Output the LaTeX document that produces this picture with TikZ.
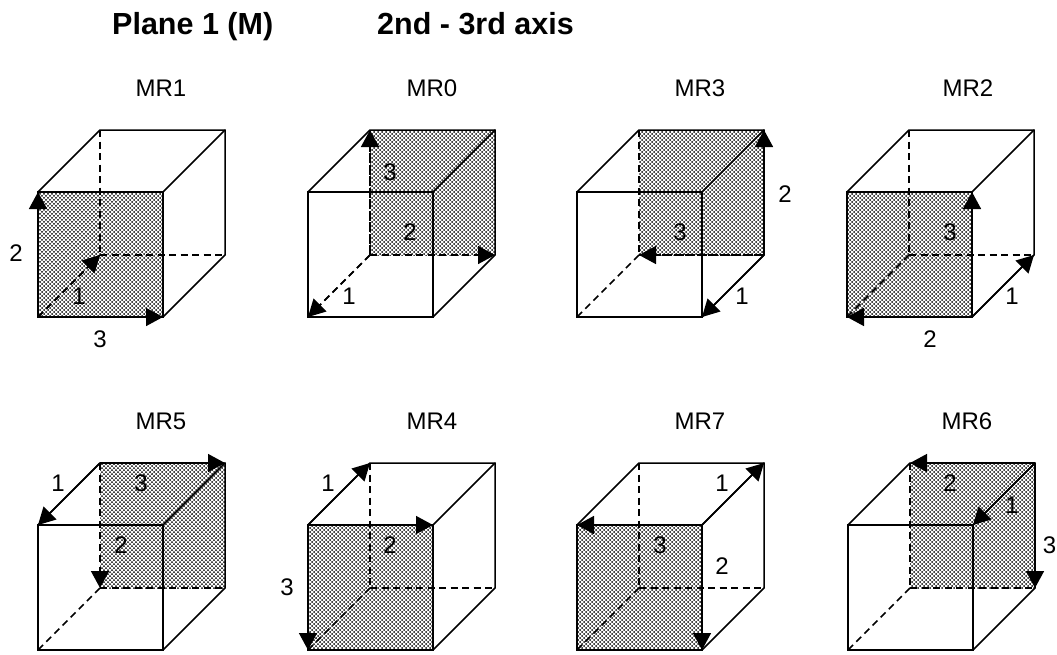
\documentclass[tikz,border=0pt]{standalone}
\usepackage{fontspec}
\setmainfont{Liberation Sans}
\usetikzlibrary{arrows.meta,patterns}
\pgfdeclarepatternformonly{halftone}{\pgfqpoint{-1pt}{-1pt}}{\pgfqpoint{3pt}{3pt}}{\pgfqpoint{4pt}{4pt}}{%
  \pgfpathcircle{\pgfqpoint{0pt}{0pt}}{1pt}%
  \pgfpathcircle{\pgfqpoint{2pt}{2pt}}{1pt}%
  \pgfusepath{fill}}
\tikzset{
  edge/.style={line width=1.5pt,black},
  hidden/.style={edge,dash pattern=on 7pt off 4.5pt},
  axis/.style={edge,-{Triangle[length=17pt,width=18pt]}},
  axisdash/.style={hidden,-{Triangle[length=17pt,width=18pt]}},
  shade/.style={pattern=halftone,pattern color=black},
  lab/.style={font=\fontsize{24pt}{26pt}\selectfont,inner sep=0pt},
  ttl/.style={font=\fontsize{30.5pt}{32pt}\selectfont\bfseries,inner sep=0pt,anchor=base west}
}
% name, x of front left, y of front top
\newcommand{\cubepts}[3]{%
  \coordinate (#1ftl) at (#2,#3);
  \coordinate (#1ftr) at (#2+125,#3);
  \coordinate (#1fbl) at (#2,#3+125);
  \coordinate (#1fbr) at (#2+125,#3+125);
  \coordinate (#1btl) at (#2+62,#3-62);
  \coordinate (#1btr) at (#2+187,#3-62);
  \coordinate (#1bbl) at (#2+62,#3+63);
  \coordinate (#1bbr) at (#2+187,#3+63);
}
\newcommand{\cubeedges}[1]{%
  \draw[hidden] (#1btl) -- (#1bbl);
  \draw[hidden] (#1bbl) -- (#1bbr);
  \draw[hidden] (#1bbl) -- (#1fbl);
  \draw[edge] (#1ftl) -- (#1ftr) -- (#1fbr) -- (#1fbl) -- cycle;
  \draw[edge] (#1ftl) -- (#1btl) -- (#1btr) -- (#1bbr) -- (#1fbr);
  \draw[edge] (#1ftr) -- (#1btr);
}
\newcommand{\front}[1]{\fill[shade] (#1ftl) rectangle (#1fbr);}
\newcommand{\back}[1]{\fill[shade] (#1btl) rectangle (#1bbr);}
\begin{document}
\begin{tikzpicture}[x=1pt,y=-1pt]
\useasboundingbox (0,0) rectangle (1057,654);
\node[ttl] (t1) at (112,34) {Plane 1 (M)};
\node[ttl] (t2) at (377,34) {2nd - 3rd axis};

\cubepts{a}{38}{192}\cubepts{b}{308}{192}\cubepts{c}{577}{192}\cubepts{d}{847}{192}
\cubepts{e}{38}{525}\cubepts{f}{308}{525}\cubepts{g}{577}{525}\cubepts{h}{848}{525}

\front{a}\back{b}\back{c}\front{d}
\back{e}\front{f}\front{g}\back{h}

\cubeedges{a}\cubeedges{b}\cubeedges{c}\cubeedges{d}
\cubeedges{e}\cubeedges{f}\cubeedges{g}\cubeedges{h}

% MR1
\draw[axis] (afbl) -- (aftl);
\draw[axis] (afbl) -- (afbr);
\draw[axisdash] (afbl) -- (abbl);
% MR0
\draw[axisdash] (bbbl) -- (bfbl);
\draw[axisdash] (bbbl) -- (bbbr);
\draw[axisdash] (bbbl) -- (bbtl);
% MR3
\draw[axis] (cbbr) -- (cbtr);
\draw[axisdash] (cbbr) -- (cbbl);
\draw[axis] (cbbr) -- (cfbr);
% MR2
\draw[axis] (dfbr) -- (dbbr);
\draw[axis] (dfbr) -- (dfbl);
\draw[axis] (dfbr) -- (dftr);
% MR5
\draw[axis] (ebtl) -- (eftl);
\draw[axis] (ebtl) -- (ebtr);
\draw[axisdash] (ebtl) -- (ebbl);
% MR4
\draw[axis] (fftl) -- (fbtl);
\draw[axis] (fftl) -- (fftr);
\draw[axis] (fftl) -- (ffbl);
% MR7
\draw[axis] (gftr) -- (gbtr);
\draw[axis] (gftr) -- (gfbr);
\draw[axis] (gftr) -- (gftl);
% MR6
\draw[axis] (hbtr) -- (hftr);
\draw[axis] (hbtr) -- (hbtl);
\draw[axis] (hbtr) -- (hbbr);

% titles of the cubes
\node[lab] (la) at (161,88) {MR1};
\node[lab] (lb) at (432,88) {MR0};
\node[lab] (lc) at (700,88) {MR3};
\node[lab] (ld) at (968,88) {MR2};
\node[lab] (le) at (161,421) {MR5};
\node[lab] (lf) at (432,421) {MR4};
\node[lab] (lg) at (700,421) {MR7};
\node[lab] (lh) at (967,421) {MR6};

% axis numbers
\node[lab] (a2) at (16,253) {2};
\node[lab] (a1) at (79,296) {1};
\node[lab] (a3) at (100,339) {3};
\node[lab] (b3) at (390,172) {3};
\node[lab] (b2) at (410,232) {2};
\node[lab] (b1) at (349,296) {1};
\node[lab] (c2) at (785,194) {2};
\node[lab] (c3) at (680,232) {3};
\node[lab] (c1) at (742,296) {1};
\node[lab] (d3) at (950,232) {3};
\node[lab] (d1) at (1012,296) {1};
\node[lab] (d2) at (930,339) {2};
\node[lab] (e1) at (58,483) {1};
\node[lab] (e3) at (141,483) {3};
\node[lab] (e2) at (121,545) {2};
\node[lab] (f1) at (328,483) {1};
\node[lab] (f2) at (390,545) {2};
\node[lab] (f3) at (287,587) {3};
\node[lab] (g1) at (722,483) {1};
\node[lab] (g3) at (660,545) {3};
\node[lab] (g2) at (722,566) {2};
\node[lab] (h2) at (950,483) {2};
\node[lab] (h1) at (1012,505) {1};
\node[lab] (h3) at (1049.5,545) {3};
\end{tikzpicture}
\end{document}
